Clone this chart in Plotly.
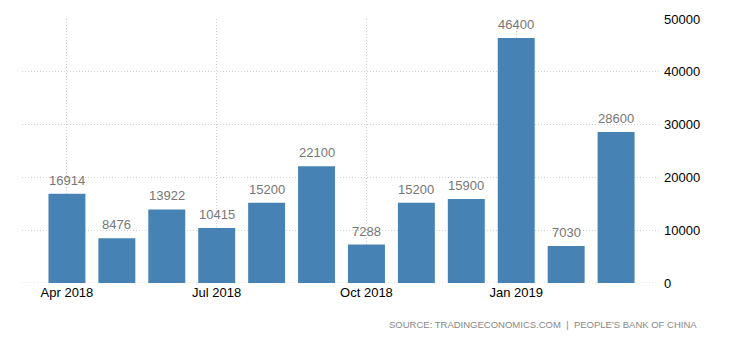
import plotly.graph_objects as go

# Monthly values, Apr 2018 - Mar 2019
months = ["Apr 2018", "May 2018", "Jun 2018", "Jul 2018", "Aug 2018", "Sep 2018",
          "Oct 2018", "Nov 2018", "Dec 2018", "Jan 2019", "Feb 2019", "Mar 2019"]
values = [16914, 8476, 13922, 10415, 15200, 22100, 7288, 15200, 15900, 46400, 7030, 28600]
tick_months = ["Apr 2018", "Jul 2018", "Oct 2018", "Jan 2019"]
y_ticks = [0, 10000, 20000, 30000, 40000, 50000]
y_tick_labels = ["0", "10000", "20000", "30000", "40000", "50000"]

BAR = "#4682b4"
GRID = "#d0d0d0"
FONT = "Liberation Sans, Arial, sans-serif"
DOTS = "1px,2px"

fig = go.Figure()
fig.add_trace(go.Bar(x=months, y=values, marker=dict(color=BAR, line=dict(width=0)),
                     hoverinfo="x+y"))

for m, v in zip(months, values):
    fig.add_annotation(x=m, y=v, text=str(v), showarrow=False, yanchor="bottom",
                       yshift=4, font=dict(family=FONT, size=13, color="#777777"))

fig.add_annotation(xref="paper", yref="paper", x=1.06, y=-0.13, xanchor="right",
                   yanchor="top", showarrow=False,
                   text="SOURCE: TRADINGECONOMICS.COM  |  PEOPLE'S BANK OF CHINA",
                   font=dict(family=FONT, size=9.5, color="#888888"))

fig.update_layout(
    width=730, height=340,
    margin=dict(l=22, r=69, t=19, b=57),
    paper_bgcolor="white", plot_bgcolor="white",
    bargap=0.26, showlegend=False,
    xaxis=dict(type="category", range=[-0.9, 11.9], tickmode="array",
               tickvals=tick_months, ticktext=tick_months,
               showgrid=True, gridcolor=GRID, griddash=DOTS, gridwidth=1,
               ticks="", showline=False, zeroline=False,
               tickfont=dict(family=FONT, size=13, color="#000000")),
    yaxis=dict(side="right", range=[0, 50000], tickmode="array",
               tickvals=y_ticks, ticktext=y_tick_labels,
               showgrid=True, gridcolor=GRID, griddash=DOTS, gridwidth=1,
               zeroline=False, showline=False, ticks="", ticklabelstandoff=2,
               tickfont=dict(family=FONT, size=13, color="#000000")),
)
# zero baseline drawn as a dotted grid line too
fig.add_hline(y=0, line=dict(color=GRID, width=1, dash=DOTS), layer="below")

fig.write_html("out.html")
